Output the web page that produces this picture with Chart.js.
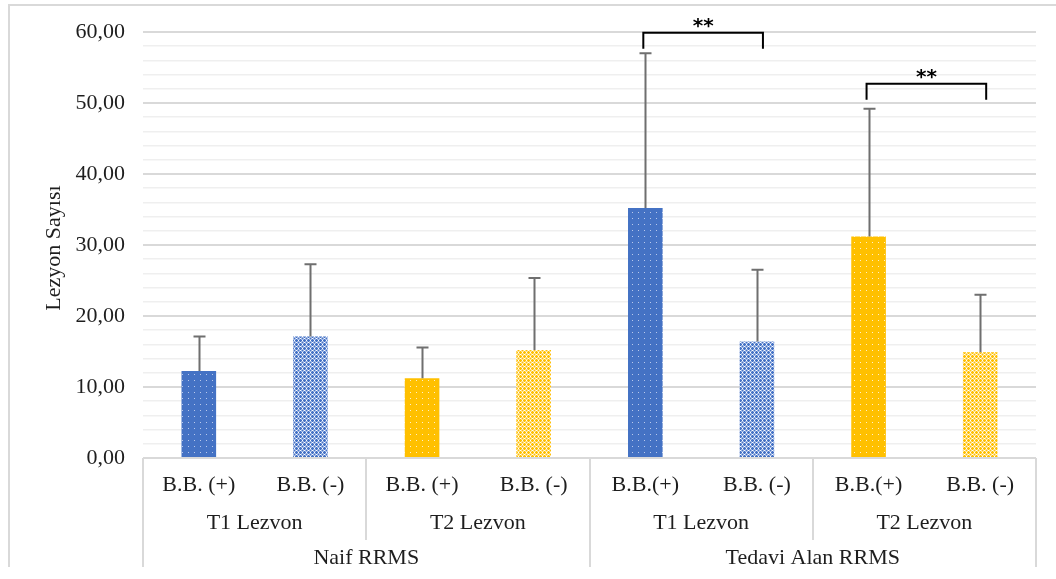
<!DOCTYPE html>
<html>
<head>
<meta charset="utf-8">
<script src="https://cdn.jsdelivr.net/npm/chart.js@4"></script>
<style>
  html, body { margin: 0; padding: 0; background: #ffffff; }
  #wrap { width: 1056px; height: 579px; position: relative; }
</style>
</head>
<body>
<div id="wrap"><canvas id="c" width="1056" height="579"></canvas></div>
<script>
// ---- data ----
const barLabels = ['B.B. (+)', 'B.B. (-)', 'B.B. (+)', 'B.B. (-)', 'B.B.(+)', 'B.B. (-)', 'B.B.(+)', 'B.B. (-)'];
const lesionLabels = ['T1 Lezvon', 'T2 Lezvon', 'T1 Lezvon', 'T2 Lezvon'];
const groupLabels = ['Naif RRMS', 'Tedavi Alan RRMS'];
const meanValues = [12.25, 17.1, 11.25, 15.2, 35.2, 16.4, 31.2, 14.9];
const sdValues = [4.85, 10.2, 4.3, 10.15, 21.8, 10.1, 18.0, 8.1];
const yTickLabels = ['0,00', '10,00', '20,00', '30,00', '40,00', '50,00', '60,00'];
const yAxisTitle = 'Lezyon Sayısı';
// significance brackets: [fromBar, toBar, level]
const bracketFrom = [4, 6];
const bracketTo = [5, 7];
const bracketLevel = [59.9, 52.7];
const bracketText = ['**', '**'];

// ---- styles ----
const BLUE = '#4472C4';
const YELLOW = '#FFC000';
const FONT = '"Liberation Serif", "Times New Roman", serif';
const TEXT = '#1e1e1e';
const LINE = '#d9d9d9';

function dotPattern(color, dot) {
  const c = document.createElement('canvas');
  c.width = 6; c.height = 6;
  const g = c.getContext('2d');
  g.fillStyle = color; g.fillRect(0, 0, 6, 6);
  g.fillStyle = dot; g.fillRect(2, 2, 1, 1);
  return g.createPattern(c, 'repeat');
}
function checkPattern(color, light) {
  const c = document.createElement('canvas');
  c.width = 4; c.height = 4;
  const g = c.getContext('2d');
  g.fillStyle = light; g.fillRect(0, 0, 4, 4);
  g.fillStyle = color;
  g.fillRect(0, 0, 1, 4); g.fillRect(0, 0, 4, 1);
  g.fillRect(2, 2, 1, 1);
  g.fillStyle = '#ffffff';
  g.fillRect(2, 0, 1, 1); g.fillRect(0, 2, 1, 1);
  return g.createPattern(c, 'repeat');
}
const fills = [
  dotPattern(BLUE, '#b9c9ec'), checkPattern(BLUE, '#9fb6e4'),
  dotPattern(YELLOW, '#fff0c8'), checkPattern(YELLOW, '#ffe08a'),
  dotPattern(BLUE, '#b9c9ec'), checkPattern(BLUE, '#9fb6e4'),
  dotPattern(YELLOW, '#fff0c8'), checkPattern(YELLOW, '#ffe08a')
];

const extras = {
  id: 'extras',
  afterDatasetsDraw(chart) {
    const ctx = chart.ctx;
    const x = chart.scales.x, y = chart.scales.y;
    ctx.save();
    // error bars (upper only)
    ctx.strokeStyle = '#6f6f6f';
    ctx.lineWidth = 2;
    meanValues.forEach((m, i) => {
      const cx = Math.round(x.getPixelForValue(i)) + 0.5;
      const y0 = y.getPixelForValue(m);
      const y1 = y.getPixelForValue(m + sdValues[i]);
      ctx.beginPath();
      ctx.moveTo(cx, y0); ctx.lineTo(cx, y1);
      ctx.moveTo(cx - 6, y1); ctx.lineTo(cx + 6, y1);
      ctx.stroke();
    });
    // significance brackets
    ctx.strokeStyle = '#000000';
    ctx.lineWidth = 2;
    ctx.fillStyle = '#000000';
    ctx.font = 'bold 20px "DejaVu Sans", sans-serif';
    ctx.textAlign = 'center';
    ctx.textBaseline = 'middle';
    bracketLevel.forEach((lv, k) => {
      const x0 = x.getPixelForValue(bracketFrom[k]) - 2;
      const x1 = x.getPixelForValue(bracketTo[k]) + 6;
      const yt = y.getPixelForValue(lv);
      ctx.beginPath();
      ctx.moveTo(x0, yt + 16);
      ctx.lineTo(x0, yt);
      ctx.lineTo(x1, yt);
      ctx.lineTo(x1, yt + 16);
      ctx.stroke();
      ctx.fillText(bracketText[k], (x0 + x1) / 2, yt - 6);
    });
    ctx.restore();
  },
  afterDraw(chart) {
    const ctx = chart.ctx;
    const x = chart.scales.x;
    const area = chart.chartArea;
    const bottom = 567;
    ctx.save();
    // outer frame
    ctx.strokeStyle = LINE;
    ctx.lineWidth = 2;
    ctx.beginPath();
    ctx.moveTo(9, bottom); ctx.lineTo(9, 5); ctx.lineTo(1056, 5);
    ctx.stroke();
    // category box separators
    const n = barLabels.length;
    const bound = (i) => {
      if (i <= 0) return area.left;
      if (i >= n) return area.right;
      return (x.getPixelForValue(i - 1) + x.getPixelForValue(i)) / 2;
    };
    ctx.strokeStyle = LINE;
    ctx.lineWidth = 2;
    for (let i = 0; i <= n; i += 2) {
      const bx = Math.round(bound(i));
      const full = (i % 4 === 0);
      ctx.beginPath();
      ctx.moveTo(bx, area.bottom);
      ctx.lineTo(bx, full ? bottom : 540);
      ctx.stroke();
    }
    // labels
    ctx.fillStyle = TEXT;
    ctx.font = '22px ' + FONT;
    ctx.textAlign = 'center';
    ctx.textBaseline = 'middle';
    barLabels.forEach((t, i) => ctx.fillText(t, x.getPixelForValue(i), 485));
    lesionLabels.forEach((t, j) => ctx.fillText(t, (bound(2 * j) + bound(2 * j + 2)) / 2, 523));
    groupLabels.forEach((t, j) => ctx.fillText(t, (bound(4 * j) + bound(4 * j + 4)) / 2, 558));
    // y axis title
    ctx.translate(54, (area.top + area.bottom) / 2 + 3);
    ctx.rotate(-Math.PI / 2);
    ctx.font = '22px ' + FONT;
    ctx.fillText(yAxisTitle, 0, 0);
    ctx.restore();
  }
};

new Chart(document.getElementById('c'), {
  type: 'bar',
  data: {
    labels: barLabels,
    datasets: [{
      data: meanValues,
      backgroundColor: fills,
      borderWidth: 0,
      barPercentage: 0.31,
      categoryPercentage: 1
    }]
  },
  options: {
    responsive: false,
    animation: false,
    events: [],
    layout: { padding: { left: 0, right: 20, top: 32, bottom: 121 } },
    plugins: { legend: { display: false }, tooltip: { enabled: false } },
    scales: {
      x: { display: false },
      y: {
        min: 0, max: 60,
        afterFit(s) { s.width = 143; },
        border: { display: false },
        grid: {
          drawTicks: false,
          color: (c) => (c.tick && c.tick.value % 10 === 0) ? '#d9d9d9' : '#efefef',
          lineWidth: (c) => (c.tick && c.tick.value % 10 === 0) ? 2 : 1.5
        },
        ticks: {
          stepSize: 2,
          autoSkip: false,
          padding: 18,
          color: TEXT,
          font: { family: FONT, size: 22 },
          callback: (v) => (v % 10 === 0 ? yTickLabels[v / 10] : '')
        }
      }
    }
  },
  plugins: [extras]
});
</script>
</body>
</html>
